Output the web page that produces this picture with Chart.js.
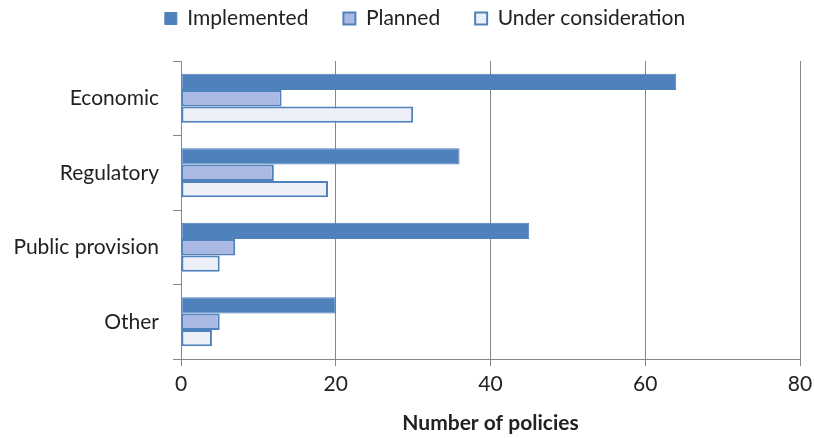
<!DOCTYPE html>
<html>
<head>
<meta charset="utf-8">
<script src="https://cdn.jsdelivr.net/npm/chart.js@4"></script>
<style>
  html, body { margin: 0; padding: 0; background: #fff; }
  #wrap { width: 814px; height: 438px; }
</style>
</head>
<body>
<div id="wrap"><canvas id="myChart" width="814" height="438"></canvas></div>
<script>
// Policy types and how many policies fall in each status
const categories = ['Economic', 'Regulatory', 'Public provision', 'Other'];
const implemented = [64, 36, 45, 20];
const planned = [13, 12, 7, 5];
const underConsideration = [30, 19, 5, 4];
const xTicks = [0, 20, 40, 60, 80];

const blue = '#4F81BD';
const gridGray = '#868686';
const textColor = '#222222';

// Fix the legend band height, pull its row up near the top edge and nudge it right
const legendPlacement = {
    id: 'legendPlacement',
    afterInit(chart) {
        const fit = chart.legend.fit;
        chart.legend.fit = function () {
            fit.call(this);
            this.height = 61;
        };
    },
    afterLayout(chart) {
        const legend = chart.legend;
        legend.top = 8 - legend.options.labels.padding;
        legend.left += 18;
        legend.right += 18;
    }
};

const ctx = document.getElementById('myChart').getContext('2d');
const myChart = new Chart(ctx, {
    type: 'bar',
    data: {
        labels: categories,
        datasets: [{
            label: 'Implemented',
            data: implemented,
            backgroundColor: blue,
            borderColor: blue,
            borderWidth: 1,
            borderSkipped: false
        }, {
            label: 'Planned',
            data: planned,
            backgroundColor: '#A9B9E3',
            borderColor: blue,
            borderWidth: 2,
            borderSkipped: false
        }, {
            label: 'Under consideration',
            data: underConsideration,
            backgroundColor: '#EDF0F8',
            borderColor: blue,
            borderWidth: 2,
            borderSkipped: false
        }]
    },
    options: {
        indexAxis: 'y',
        responsive: false,
        animation: false,
        datasets: {
            bar: { categoryPercentage: 0.66, barPercentage: 1.0 }
        },
        layout: { padding: 0 },
        plugins: {
            legend: {
                position: 'top',
                labels: {
                    color: textColor,
                    font: { family: 'Lato', size: 21 },
                    boxWidth: 12,
                    boxHeight: 12,
                    padding: 35
                }
            },
            tooltip: { enabled: false }
        },
        scales: {
            x: {
                min: 0,
                max: 80,
                afterBuildTicks(scale) {
                    scale.ticks = xTicks.map(v => ({ value: v }));
                },
                afterFit(scale) {
                    scale.height = 79;
                    scale.paddingLeft = 0;
                    scale.paddingRight = 14;
                },
                grid: { color: gridGray, tickLength: 7, lineWidth: 1 },
                border: { color: gridGray },
                ticks: {
                    color: textColor,
                    font: { family: 'Lato', size: 21 },
                    padding: 6,
                    maxRotation: 0
                },
                title: {
                    display: true,
                    text: 'Number of policies',
                    color: textColor,
                    font: { family: 'Lato', size: 21, weight: 'bold' },
                    padding: { top: 0, bottom: 2 }
                }
            },
            y: {
                afterFit(scale) { scale.width = 181; },
                grid: { drawOnChartArea: false, color: gridGray, tickLength: 8 },
                border: { color: gridGray },
                ticks: {
                    color: textColor,
                    font: { family: 'Lato', size: 21 },
                    padding: 14
                }
            }
        }
    },
    plugins: [legendPlacement]
});
</script>
</body>
</html>
